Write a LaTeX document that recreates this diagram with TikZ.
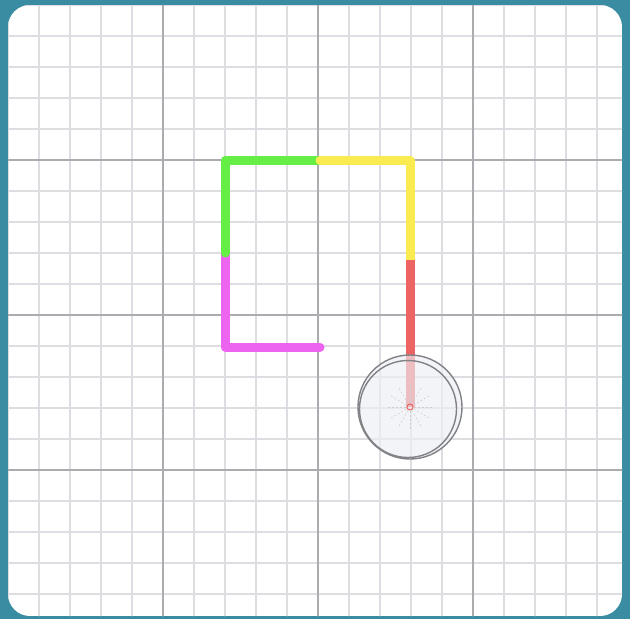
\documentclass[tikz,border=0pt]{standalone}
\definecolor{teal}{RGB}{58,140,162}
\definecolor{tgreen}{RGB}{100,238,70}
\definecolor{tyellow}{RGB}{250,236,80}
\definecolor{tred}{RGB}{236,100,100}
\definecolor{tmag}{RGB}{236,100,240}
\definecolor{minorc}{RGB}{222,222,226}
\definecolor{majorc}{RGB}{172,172,176}
\definecolor{discc}{RGB}{236,239,244}
\definecolor{ringc}{RGB}{130,130,134}
\begin{document}
\begin{tikzpicture}[x=1pt,y=-1pt,
  minorline/.style={draw=minorc,line width=1.8pt},
  majorline/.style={draw=majorc,line width=2.6pt},
  seg/.style={line width=9pt,line cap=round,line join=round}]
\fill[teal] (0,0) rectangle (630,619);
\useasboundingbox (0,0) rectangle (630,619);
\begin{scope}
\clip[rounded corners=22pt] (8,5) rectangle (622,616);
\fill[white] (8,5) rectangle (622,616);
\foreach \i in {-5,...,15} {
  \draw[minorline] ({163+31*\i},0) -- ({163+31*\i},619);
  \draw[minorline] (0,{160+31*\i}) -- (630,{160+31*\i});
}
\foreach \i in {0,1,2} {
  \draw[majorline] ({163+155*\i},0) -- ({163+155*\i},619);
  \draw[majorline] (0,{160+155*\i}) -- (630,{160+155*\i});
}
\end{scope}
\coordinate (p0) at (320,347);
\coordinate (p1) at (225,347);
\coordinate (p2) at (225,253);
\coordinate (p3) at (225,160);
\coordinate (p4) at (320,160);
\coordinate (p5) at (410,160);
\coordinate (p6) at (410,260);
\coordinate (c) at (410,407);
\coordinate (c2) at (408,409);
\draw[seg,tmag] (p0) -- (p1) -- (p2);
\draw[seg,tgreen] (p2) -- (p3) -- (p4);
\draw[seg,tyellow] (p4) -- (p5) -- (p6);
\draw[seg,tred,line cap=butt] (p6) -- (c);
\fill[discc,opacity=0.65] (c) circle (52);
\foreach \a in {0,30,...,330}
  \draw[gray!40,line width=0.5pt,dash pattern=on 2pt off 2pt] (c) ++(\a:4) -- ++(\a:18);
\draw[tred,line width=1pt] (c) circle (3);
\draw[ringc,line width=1.4pt] (c) circle (52);
\draw[ringc,line width=1.4pt] (c2) circle (48.5);
\end{tikzpicture}
\end{document}
